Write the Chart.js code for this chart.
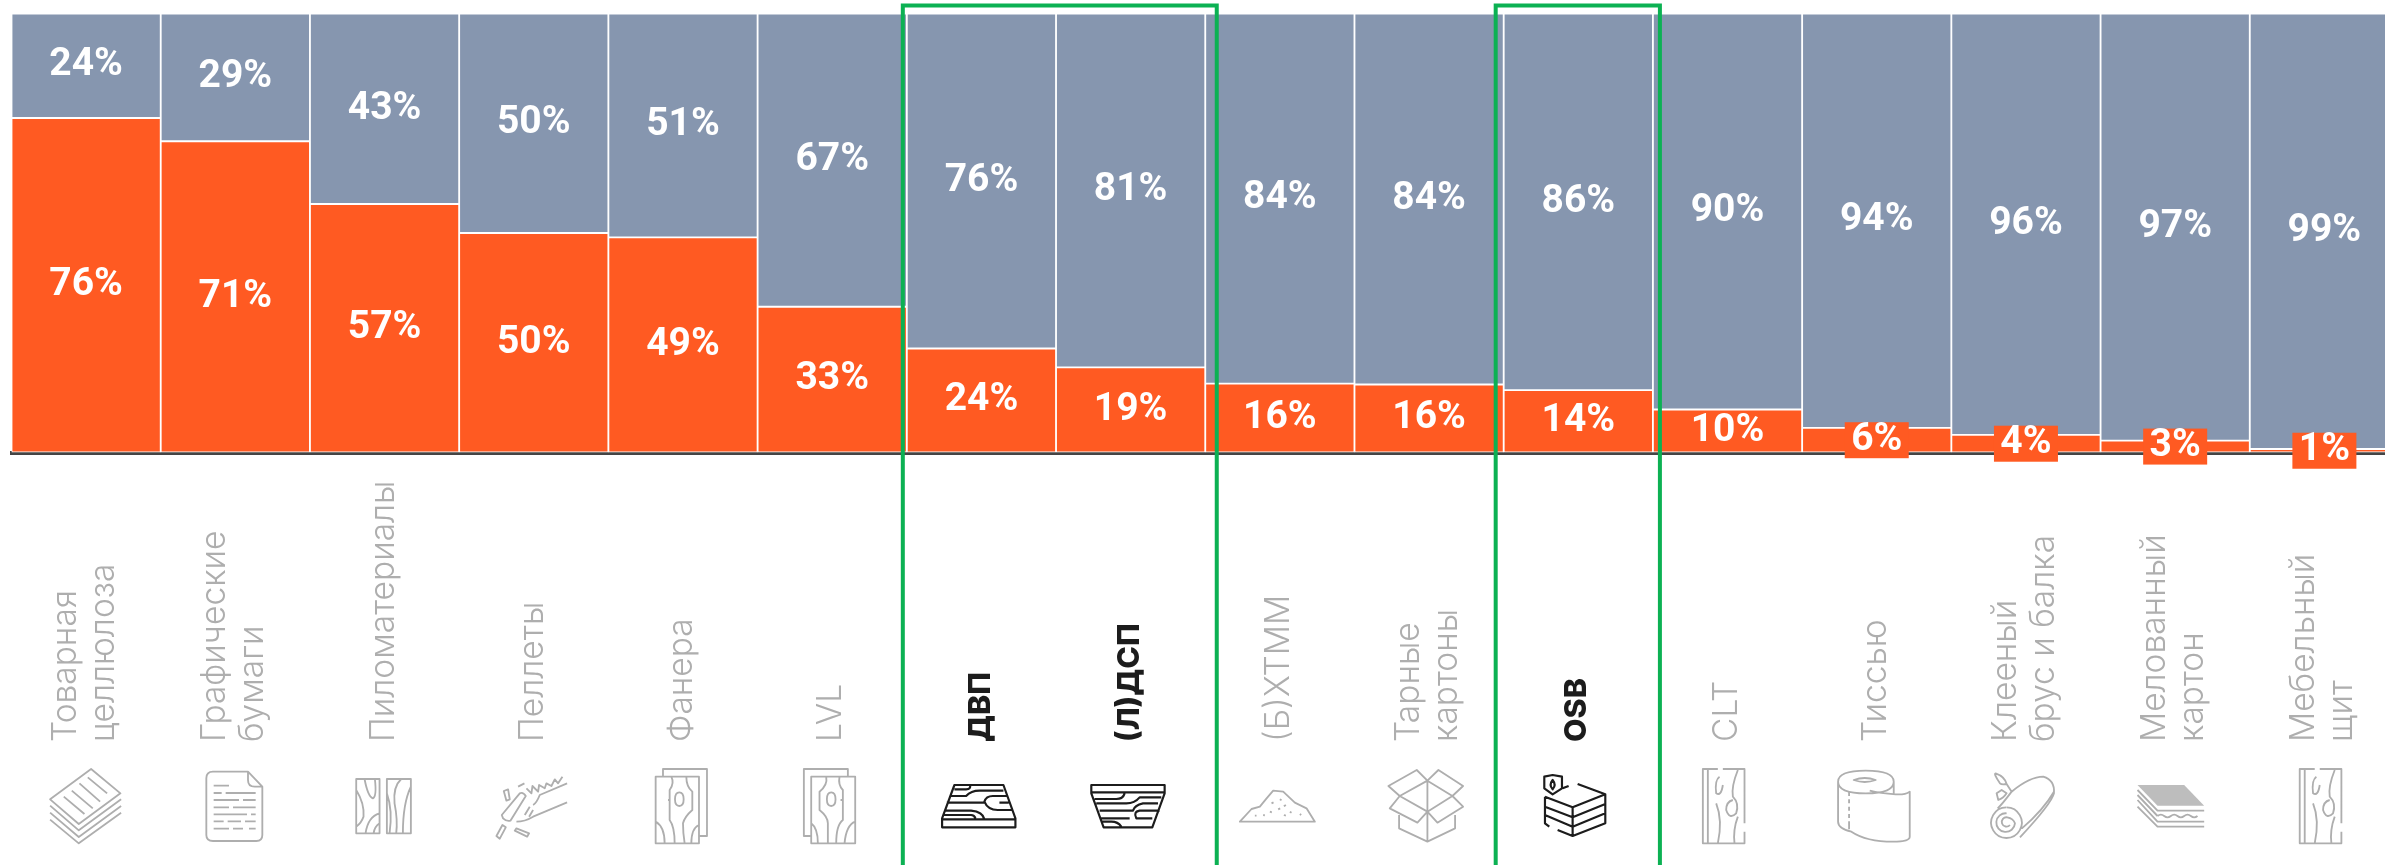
<!DOCTYPE html>
<html lang="ru">
<head>
<meta charset="UTF-8">
<title>Доля рынка</title>
<style>
  html, body { margin: 0; padding: 0; background: #fff; overflow: hidden; }
  #wrap { width: 2385px; height: 865px; overflow: hidden; }
</style>
<script src="https://cdn.jsdelivr.net/npm/chart.js"></script>
</head>
<body>
<div id="wrap"><canvas id="viz"></canvas></div>
<script>
const categories = ['Товарная целлюлоза', 'Графические бумаги', 'Пиломатериалы', 'Пеллеты', 'Фанера', 'LVL', 'ДВП', '(Л)ДСП', '(Б)ХТММ', 'Тарные картоны', 'OSB', 'CLT', 'Тиссью', 'Клееный брус и балка', 'Мелованный картон', 'Мебельный щит']
const categoryLines = [['Товарная', 'целлюлоза'], ['Графические', 'бумаги'], ['Пиломатериалы'], ['Пеллеты'], ['Фанера'], ['LVL'], ['ДВП'], ['(Л)ДСП'], ['(Б)ХТММ'], ['Тарные', 'картоны'], ['OSB'], ['CLT'], ['Тиссью'], ['Клееный', 'брус и балка'], ['Мелованный', 'картон'], ['Мебельный', 'щит']]
const orangeValues = [76.2, 70.9, 56.6, 50, 49, 33.2, 23.7, 19.4, 15.7, 15.5, 14.2, 9.8, 5.6, 4, 2.7, 0.8]
const greyValues = [23.8, 29.1, 43.4, 50, 51, 66.8, 76.3, 80.6, 84.3, 84.5, 85.8, 90.2, 94.4, 96, 97.3, 99.2]
const orangeLabels = ['76%', '71%', '57%', '50%', '49%', '33%', '24%', '19%', '16%', '16%', '14%', '10%', '6%', '4%', '3%', '1%']
const greyLabels = ['24%', '29%', '43%', '50%', '51%', '67%', '76%', '81%', '84%', '84%', '86%', '90%', '94%', '96%', '97%', '99%']
const highlighted = [6, 7, 10]
const highlightBoxes = [[6, 7, 4, 11.5], [10, 10, 8, 7]]

const ORANGE = '#ff5a22'
const GREY = '#8696af'
const GREEN = '#0cb153'
const MUTED = '#aeaeae'
const DARK = '#1c1c1c'

// icons traced in 3x px, ox = where the bar centre falls in that trace
const icons = [
  { ox: 140, d: 'M155 27L243 100L118 192L32 118ZM32 137L118 211L245 118M32 158L118 231L245 138M32 179L118 250L245 158M145 52L203 100M120 70L182 125M97 92L160 145M73 110L135 162' },
  { ox: 587, d: 'M520 35H625L668 80V225Q668 243 650 243H520Q500 243 500 225V55Q500 35 520 35ZM625 35V60Q625 80 645 80H668M522 77H568M522 99H546M558 99H648M522 120H598M610 120H648M522 142H568M580 142H648M522 163H622M634 163H648M522 184H552M564 184H604M616 184H648M522 206H568M580 206H610M628 206H648' },
  { ox: 1035, d: 'M950 57H1020V220H950ZM1042 57H1114V220H1042ZM975 57Q985 110 1000 115Q1012 110 1006 57M950 90Q975 130 972 170Q965 190 950 200M1020 160Q985 170 978 220M1020 190Q1005 200 1002 220M1085 57Q1060 80 1065 130Q1075 180 1070 220M1042 100Q1060 150 1050 220M1114 80Q1090 130 1090 220' },
  { ox: 132, d: 'M36 165L90 100Q100 95 108 108L62 182Q50 185 40 175ZM42 93L55 88L60 118L50 122ZM20 228L38 195L48 202L30 236ZM75 212L80 205L118 220L112 230ZM85 80L104 70M232 70L150 105Q140 130 130 135M232 127L130 170Q105 185 80 185M120 140L105 165M130 150L118 170M110 85L125 100L128 78L145 95L148 75L165 85L170 70L185 78L195 58L205 70L218 50' },
  { ox: 580, d: 'M520 47V27H652V228H628M498 50H628V250H498ZM545 50Q555 70 540 90V180Q555 200 555 250M590 50Q590 80 608 95V150Q585 170 580 190Q580 220 585 250M569 97Q582 97 582 118Q582 138 569 138Q556 138 556 118Q556 97 569 97ZM535 120H542M498 185Q525 200 525 250M628 195Q605 205 605 250' },
  { ox: 1028, d: 'M1075 47V27H943V228H965M965 50H1097V250H965ZM1010 50Q1015 75 990 95V150Q1015 170 1015 190V250M1050 50Q1045 75 1060 90V180Q1040 195 1040 250M1025 97Q1038 97 1038 118Q1038 138 1025 138Q1012 138 1012 118Q1012 97 1025 97ZM1053 120H1060M965 190Q985 205 985 250M1097 185Q1070 195 1065 250' },
  { ox: 156, dark: true, d: 'M75 75H222L258 175V202H38V175ZM75 88H110Q125 88 122 75M222 92H150Q125 92 110 108H62M232 108H190Q170 108 165 125Q175 150 205 150H248M52 128H165M48 152H125Q160 155 165 178M45 165H125Q135 165 138 175M38 178H258M210 128H238' },
  { ox: 603, dark: true, d: 'M485 75H705V100L668 202H522L485 100ZM488 97H702M495 117H560Q580 117 585 100M500 130H590Q615 130 630 112H695M510 152H610Q615 135 640 130H685M690 152H630Q610 155 620 175H668M510 175H600M518 185H545Q565 185 575 200' },
  { ox: 1050, d: 'M930 185L965 147L990 140Q1010 115 1030 92L1060 95L1095 128L1130 145L1155 185ZM1025 130l6 -3M1050 118l5 3M1068 135l-6 4M1045 148l6 -3M1020 155l6 2M1000 165l5 1M975 167l5 0M1080 155l5 3M1062 165l6 2M1110 162l4 3' },
  { ox: 150, d: 'M145 62L113 30L28 78L62 108M145 62L178 30L252 78L220 108M145 62L220 108L145 155L62 108ZM62 108L32 145L115 188L145 155L175 188L252 140L220 108M60 165V205L145 245L228 205V165M145 62V245' },
  { ox: 597, dark: true, d: 'M495 50L520 45L548 50V85L520 103L495 85ZM520 60Q508 75 520 88Q532 75 520 60ZM550 85L568 78M595 72L678 103L580 142L497 110M678 103V190L580 228L535 210M510 200L497 190V110M580 142V228M497 140L580 172L678 132M497 165L580 200L678 160' },
  { ox: 1044, d: 'M1015 27H970V250H1095V215M1030 27H1095V190M985 27V250M1020 50Q1005 60 1010 100Q1025 110 1030 75M1075 30Q1055 80 1060 110Q1080 130 1070 160Q1050 180 1040 150Q1040 125 1060 120M1010 130Q1030 180 1015 250M1075 170Q1060 210 1065 250' },
  { ox: 141, d: 'M25 65Q25 32 108 32Q192 32 192 65Q192 100 108 100Q25 100 25 65ZM72 60Q105 48 138 60Q105 72 72 60ZM25 65V185Q25 205 65 215Q110 245 190 245Q240 245 240 230V95Q225 105 198 103Q150 100 120 92M192 65V102M58 95V108M58 118V130M58 140V152M58 162V174M58 184V208' },
  { ox: 588, d: 'M503 145Q515 135 545 95Q600 50 640 50Q675 60 672 100Q665 130 570 232M672 95Q640 150 576 205M530 142A46 46 0 1 1 529 142M530 160A28 28 0 1 0 555 190Q550 175 532 172A14 14 0 1 0 540 195M545 95L530 72M510 70Q490 40 497 40Q525 50 530 72Q515 75 510 70ZM500 100L515 90L530 100Q520 115 505 120Z' },
  { ox: 1038, fill: 'M925 75H1065L1125 137H985Z', d: 'M925 90L985 152H1125M925 105L985 168M925 120L985 185H1125M925 140L985 200H1125M985 168q10 -8 20 0t20 0t20 0t20 0t20 0t20 0' },
  { ox: 1044, d: 'M1015 27H970V250H1095V215M1030 27H1095V190M985 27V250M1020 50Q1005 60 1010 100Q1025 110 1030 75M1075 30Q1055 80 1060 110Q1080 130 1070 160Q1050 180 1040 150Q1040 125 1060 120M1010 130Q1030 180 1015 250M1075 170Q1060 210 1065 250' }
]

const barLabels = {
  id: 'barLabels',
  afterDatasetsDraw(chart) {
    const ctx = chart.ctx
    ctx.save()
    ctx.font = 'bold 39px Roboto'
    ctx.textAlign = 'center'
    ctx.textBaseline = 'middle'
    ;[orangeLabels, greyLabels].forEach((labels, ds) => {
      chart.getDatasetMeta(ds).data.forEach((bar, i) => {
        const mid = (bar.y + bar.base) / 2
        if (ds === 0 && orangeValues[i] < 7) {
          ctx.fillStyle = ORANGE
          ctx.fillRect(bar.x - 32, mid - 18, 64, 36)
        }
        ctx.fillStyle = '#fff'
        ctx.fillText(labels[i], bar.x, mid)
      })
    })
    ctx.restore()
  }
}

const categoryColumn = {
  id: 'categoryColumn',
  afterDraw(chart) {
    const ctx = chart.ctx
    const x = chart.scales.x
    const pitch = x.getPixelForValue(1) - x.getPixelForValue(0)

    categoryLines.forEach((lines, i) => {
      const cx = x.getPixelForValue(i) - 1
      const dark = highlighted.includes(i)
      ctx.save()
      ctx.translate(cx, 742)
      ctx.rotate(-Math.PI / 2)
      ctx.font = dark ? '800 30.5px Inter' : '300 33.5px Inter'
      ctx.fillStyle = dark ? DARK : MUTED
      ctx.textAlign = 'left'
      ctx.textBaseline = 'middle'
      lines.forEach((line, n) => {
        ctx.fillText(line, 0, (n - (lines.length - 1) / 2) * 38)
      })
      ctx.restore()

      const icon = icons[i]
      ctx.save()
      ctx.translate(x.getPixelForValue(i), 760)
      ctx.scale(1 / 3, 1 / 3)
      ctx.translate(-icon.ox, 0)
      ctx.strokeStyle = icon.dark ? DARK : MUTED
      ctx.lineWidth = icon.dark ? 6.5 : 5.5
      ctx.lineJoin = 'round'
      if (icon.fill) {
        ctx.fillStyle = '#bdbdbd'
        ctx.fill(new Path2D(icon.fill))
      }
      ctx.stroke(new Path2D(icon.d))
      ctx.restore()
    })

    ctx.save()
    ctx.strokeStyle = GREEN
    ctx.lineWidth = 4
    highlightBoxes.forEach(([from, to, padLeft, padRight]) => {
      const left = x.getPixelForValue(from) - pitch / 2 - padLeft
      const right = x.getPixelForValue(to) + pitch / 2 + padRight
      ctx.beginPath()
      ctx.moveTo(left, chart.height)
      ctx.lineTo(left, 5.5)
      ctx.lineTo(right, 5.5)
      ctx.lineTo(right, chart.height)
      ctx.stroke()
    })
    ctx.restore()
  }
}

const viz = document.getElementById('viz')
viz.width = 2399
viz.height = 865

new Chart(viz, {
  type: 'bar',
  data: {
    labels: categories,
    datasets: [
      { label: 'Оранжевый', data: orangeValues, backgroundColor: ORANGE, borderColor: '#fff', borderWidth: 1.25, borderSkipped: false },
      { label: 'Серый', data: greyValues, backgroundColor: GREY, borderColor: '#fff', borderWidth: 1.25, borderSkipped: false }
    ]
  },
  options: {
    responsive: false,
    animation: false,
    layout: { padding: { left: 11.5, right: 0, top: 13.5, bottom: 404.5 } },
    plugins: { legend: { display: false }, tooltip: { enabled: false } },
    scales: {
      x: {
        stacked: true,
        grid: { display: false },
        border: { color: '#444', width: 4 },
        ticks: { display: false }
      },
      y: { stacked: true, min: 0, max: 100, display: false }
    },
    datasets: { bar: { categoryPercentage: 1, barPercentage: 1 } }
  },
  plugins: [barLabels, categoryColumn]
})
</script>
</body>
</html>
